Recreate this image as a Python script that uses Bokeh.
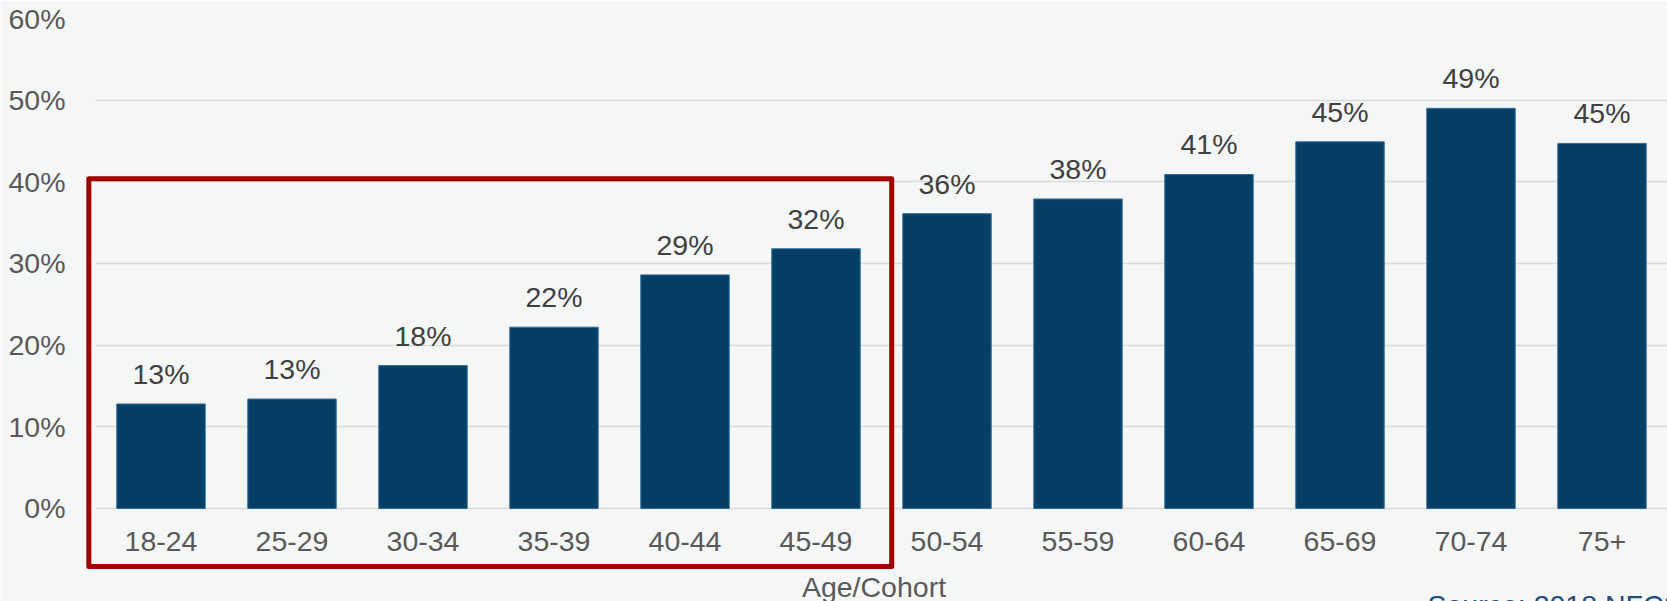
from bokeh.plotting import figure
from bokeh.models import (Range1d, FixedTicker, BoxAnnotation, Label, ColumnDataSource,
                          LinearAxis, Grid, PrintfTickFormatter)
from bokeh.core.properties import value
from bokeh.embed import file_html
from bokeh.resources import INLINE

# ---- data ----
categories = ["18-24", "25-29", "30-34", "35-39", "40-44", "45-49",
              "50-54", "55-59", "60-64", "65-69", "70-74", "75+"]
shares = [12.8, 13.4, 17.5, 22.2, 28.6, 31.8, 36.1, 37.9, 40.9, 44.9, 49.0, 44.7]
y_ticks = [0, 10, 20, 30, 40, 50, 60]
highlight = ["18-24", "45-49"]
x_title = "Age/Cohort"
source_note = "Source: 2018 NFCS"

# ---- styles ----
FONT = "Liberation Sans"
FS = "28.5px"
BG = "#F5F7F6"
BAR = "#063F65"
GRID = "#D9D9D9"
AXIS_TXT = "#595959"
LABEL_TXT = "#404040"
BOX = "#A00000"

xs = list(range(len(categories)))
src = ColumnDataSource(dict(
    x=xs, top=shares, label=[f"{round(v):d}%" for v in shares]))

p = figure(width=1667, height=601,
           x_range=Range1d(-0.6145, len(categories) - 0.5),
           y_range=Range1d(-11.39, 60),
           output_backend="svg", toolbar_location=None,
           x_axis_location=None, y_axis_location=None,
           min_border_left=80, min_border_right=0,
           min_border_top=18, min_border_bottom=0)
p.center = []
p.background_fill_color = BG
p.border_fill_color = BG
p.outline_line_color = None

# y axis
yaxis = LinearAxis(ticker=FixedTicker(ticks=y_ticks),
                   formatter=PrintfTickFormatter(format="%d%%"))
yaxis.axis_line_color = None
yaxis.major_tick_line_color = None
yaxis.minor_tick_line_color = None
yaxis.major_label_standoff = 9
yaxis.major_label_text_font = FONT
yaxis.major_label_text_font_size = FS
yaxis.major_label_text_color = AXIS_TXT
p.add_layout(yaxis, "left")

# grid
grid = Grid(dimension=1, ticker=yaxis.ticker, grid_line_color=GRID,
            grid_line_width=1.5, cross_bounds=(-0.5, len(categories) - 0.5))
p.add_layout(grid)

# x axis (categories)
xaxis = LinearAxis(ticker=FixedTicker(ticks=xs),
                   major_label_overrides={i: c for i, c in zip(xs, categories)},
                   fixed_location=0, axis_label=x_title)
xaxis.axis_line_color = None
xaxis.major_tick_line_color = None
xaxis.minor_tick_line_color = None
xaxis.major_label_standoff = 18
xaxis.major_label_text_font = FONT
xaxis.major_label_text_font_size = FS
xaxis.major_label_text_color = AXIS_TXT
xaxis.axis_label_text_font = FONT
xaxis.axis_label_text_font_size = FS
xaxis.axis_label_text_font_style = "normal"
xaxis.axis_label_text_color = AXIS_TXT
xaxis.axis_label_standoff = 16
p.add_layout(xaxis, "below")

# bars
p.vbar(x="x", top="top", bottom=0, width=0.675, source=src,
       fill_color=BAR, line_color="#2F6C9A", line_width=1)

# value labels
p.text(x="x", y="top", text="label", source=src, text_align="center",
       text_baseline="alphabetic", y_offset=-30,
       text_font=value(FONT), text_font_size=FS, text_color=LABEL_TXT)

# highlight box
i0 = categories.index(highlight[0])
i1 = categories.index(highlight[1])
box = BoxAnnotation(left=i0 - 0.5 - 0.051, right=i1 + 0.5 + 0.078,
                    top=40.37, bottom=-7.11, fill_alpha=0,
                    line_color=BOX, line_alpha=1.0, line_width=5,
                    line_join="round", level="overlay")
p.add_layout(box)

# source note
note = Label(x=9.668, y=-9.83, text=source_note, text_baseline="top",
             text_font=FONT, text_font_size=FS, text_color="#1F4E79")
p.add_layout(note)

open("out.html", "w").write(file_html(p, INLINE))
